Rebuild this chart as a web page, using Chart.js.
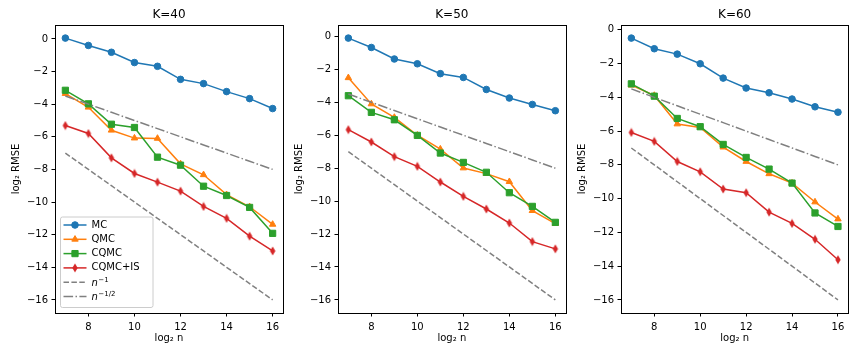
<!DOCTYPE html>
<html>
<head>
<meta charset="utf-8">
<script src="https://cdn.jsdelivr.net/npm/chart.js@4.4.0/dist/chart.umd.min.js"></script>
<style>
body { margin: 0; background: #fff; width: 859px; height: 358px; overflow: hidden; position: relative; }
canvas { position: absolute; top: 0; }
</style>
</head>
<body>
<canvas id="c40" width="290" height="358" style="left:0px"></canvas>
<canvas id="c50" width="290" height="358" style="left:283px"></canvas>
<canvas id="c60" width="293" height="358" style="left:566px"></canvas>
<script>
// data (log2 RMSE vs log2 n)
const logN = [7, 8, 9, 10, 11, 12, 13, 14, 15, 16]
const xTicks = [8, 10, 12, 14, 16]
const yTicks = [0, -2, -4, -6, -8, -10, -12, -14, -16]
const titles = ['K=40', 'K=50', 'K=60']
const seriesNames = ['MC', 'QMC', 'CQMC', 'CQMC+IS']

const mc40 = [0.05, -0.4, -0.82, -1.45, -1.68, -2.48, -2.74, -3.23, -3.66, -4.27]
const qmc40 = [-3.35, -4.19, -5.6, -6.08, -6.1, -7.66, -8.33, -9.55, -10.29, -11.37]
const cqmc40 = [-3.15, -3.98, -5.23, -5.43, -7.25, -7.74, -9.03, -9.6, -10.33, -11.92]
const cqmcis40 = [-5.31, -5.8, -7.29, -8.25, -8.78, -9.33, -10.27, -11.0, -12.09, -13.0]

const mc50 = [-0.1, -0.67, -1.37, -1.66, -2.26, -2.49, -3.22, -3.74, -4.13, -4.51]
const qmc50 = [-2.51, -4.1, -4.92, -6.0, -6.84, -7.99, -8.33, -8.82, -10.58, -11.37]
const cqmc50 = [-3.6, -4.61, -5.06, -6.01, -7.08, -7.65, -8.25, -9.49, -10.32, -11.29]
const cqmcis50 = [-5.66, -6.41, -7.3, -7.89, -8.84, -9.71, -10.48, -11.33, -12.46, -12.9]

const mc60 = [-0.49, -1.12, -1.44, -2.01, -2.86, -3.45, -3.73, -4.1, -4.56, -4.88]
const qmc60 = [-3.28, -3.89, -5.58, -5.78, -6.95, -7.8, -8.53, -9.08, -10.2, -11.21]
const cqmc60 = [-3.2, -3.93, -5.25, -5.74, -6.79, -7.56, -8.25, -9.08, -10.85, -11.65]
const cqmcis60 = [-6.08, -6.61, -7.8, -8.41, -9.43, -9.65, -10.8, -11.47, -12.41, -13.62]

// reference slopes
const refN1 = [-7, -8, -9, -10, -11, -12, -13, -14, -15, -16]
const refHalf = [-3.5, -4, -4.5, -5, -5.5, -6, -6.5, -7, -7.5, -8]

const colors = ['#1f77b4', '#ff7f0e', '#2ca02c', '#d62728']
const FONT = 'DejaVu Sans'

// thin diamond marker like matplotlib 'd'
function thinDiamond(color) {
    const c = document.createElement('canvas')
    c.width = 8
    c.height = 10
    const g = c.getContext('2d')
    g.fillStyle = color
    g.beginPath()
    g.moveTo(4, 0.4)
    g.lineTo(6.7, 5)
    g.lineTo(4, 9.6)
    g.lineTo(1.3, 5)
    g.closePath()
    g.fill()
    return c
}

const markers = [
    { style: 'circle', r: 3.3 },
    { style: 'triangle', r: 3.7 },
    { style: 'rect', r: 4.4 },
    { style: thinDiamond(colors[3]), r: 4 }
]

function drawMarker(ctx, i, x, y) {
    const m = markers[i]
    ctx.save()
    ctx.fillStyle = colors[i]
    ctx.strokeStyle = colors[i]
    ctx.lineWidth = 1
    Chart.helpers.drawPoint(ctx, { pointStyle: m.style, radius: m.r, rotation: 0, borderWidth: 1 }, x, y)
    ctx.restore()
}

// frame on all four sides + panel title
const framePlugin = {
    id: 'frame',
    afterDraw(chart) {
        const { ctx, chartArea: a } = chart
        ctx.save()
        ctx.strokeStyle = '#000'
        ctx.lineWidth = 1
        ctx.strokeRect(Math.round(a.left) + 0.5, Math.round(a.top) + 0.5, Math.round(a.right - a.left), Math.round(a.bottom - a.top))
        ctx.fillStyle = '#000'
        ctx.font = '12px ' + FONT
        ctx.textAlign = 'center'
        ctx.textBaseline = 'middle'
        ctx.fillText(chart.options.plugins.panelTitle, (a.left + a.right) / 2, 15)
        ctx.restore()
    }
}

// legend box in lower left of first panel
const legendPlugin = {
    id: 'boxLegend',
    afterDraw(chart) {
        if (!chart.options.plugins.showBoxLegend) return
        const ctx = chart.ctx
        const a = chart.chartArea
        const x0 = a.left + 5.5, y1 = a.bottom - 5.5
        const w = 92.5, h = 90.5
        const y0 = y1 - h
        ctx.save()
        ctx.fillStyle = 'rgba(255,255,255,0.8)'
        ctx.strokeStyle = '#cccccc'
        ctx.lineWidth = 1
        ctx.beginPath()
        ctx.roundRect(x0, y0, w, h, 2)
        ctx.fill()
        ctx.stroke()

        const hx0 = x0 + 3, hx1 = x0 + 26, tx = x0 + 31
        const rows = [...seriesNames, 'n1', 'n2']
        rows.forEach((name, i) => {
            const y = y0 + 8 + i * 14.3
            ctx.lineWidth = 1.5
            if (i < 4) {
                ctx.strokeStyle = colors[i]
                ctx.setLineDash([])
                ctx.beginPath(); ctx.moveTo(hx0, y); ctx.lineTo(hx1, y); ctx.stroke()
                drawMarker(ctx, i, (hx0 + hx1) / 2, y)
                ctx.fillStyle = '#000'
                ctx.font = '10px ' + FONT
                ctx.textAlign = 'left'
                ctx.textBaseline = 'middle'
                ctx.fillText(name, tx, y)
            } else {
                ctx.strokeStyle = '#808080'
                ctx.setLineDash(i === 4 ? [5.5, 2.4] : [9.6, 2.4, 1.5, 2.4])
                ctx.beginPath(); ctx.moveTo(hx0, y); ctx.lineTo(hx1, y); ctx.stroke()
                ctx.setLineDash([])
                ctx.fillStyle = '#000'
                ctx.textAlign = 'left'
                ctx.textBaseline = 'alphabetic'
                ctx.font = 'italic 10px ' + FONT
                ctx.fillText('n', tx, y + 3.5)
                const nw = ctx.measureText('n').width
                ctx.font = '7px ' + FONT
                ctx.fillText(i === 4 ? '\u22121' : '\u22121/2', tx + nw + 0.5, y - 0.5)
            }
        })
        ctx.restore()
    }
}

function makePanel(id, idx, mc, qmc, cqmc, cqmcis, rightPad) {
    const series = [mc, qmc, cqmc, cqmcis]
    const all = [...mc, ...qmc, ...cqmc, ...cqmcis, ...refN1, ...refHalf]
    const lo = Math.min(...all), hi = Math.max(...all)
    const pad = 0.05 * (hi - lo)

    const datasets = series.map((vals, i) => ({
        label: seriesNames[i],
        data: logN.map((x, k) => ({ x: x, y: vals[k] })),
        borderColor: colors[i],
        backgroundColor: colors[i],
        pointBackgroundColor: colors[i],
        pointBorderColor: colors[i],
        pointStyle: markers[i].style,
        pointRadius: markers[i].r,
        pointBorderWidth: 1,
        borderWidth: 1.5,
        tension: 0,
        order: 10 - i
    }))
    datasets.push({
        label: 'n^-1',
        data: logN.map((x, k) => ({ x: x, y: refN1[k] })),
        borderColor: '#808080',
        borderDash: [5.5, 2.4],
        borderWidth: 1.5,
        pointRadius: 0,
        order: 2
    })
    datasets.push({
        label: 'n^-1/2',
        data: logN.map((x, k) => ({ x: x, y: refHalf[k] })),
        borderColor: '#808080',
        borderDash: [9.6, 2.4, 1.5, 2.4],
        borderWidth: 1.5,
        pointRadius: 0,
        order: 1
    })

    const tickFont = { family: FONT, size: 10 }
    new Chart(document.getElementById(id), {
        type: 'line',
        data: { datasets: datasets },
        plugins: [framePlugin, legendPlugin],
        options: {
            responsive: false,
            animation: false,
            events: [],
            layout: { padding: { left: 0, right: rightPad, top: 25, bottom: 0 } },
            plugins: {
                legend: { display: false },
                tooltip: { enabled: false },
                panelTitle: titles[idx],
                showBoxLegend: idx === 0
            },
            scales: {
                x: {
                    type: 'linear',
                    min: 6.55,
                    max: 16.45,
                    afterBuildTicks: ax => { ax.ticks = xTicks.map(v => ({ value: v })) },
                    afterFit: ax => { ax.height = 45 },
                    ticks: { font: tickFont, color: '#000', padding: 4.5, maxRotation: 0 },
                    grid: { drawOnChartArea: false, drawTicks: true, tickLength: 3.5, color: '#000', tickColor: '#000', tickWidth: 1 },
                    border: { display: false },
                    title: { display: true, text: 'log\u2082 n', font: tickFont, color: '#000', padding: { top: 0, bottom: 14 } }
                },
                y: {
                    type: 'linear',
                    min: lo - pad,
                    max: hi + pad,
                    afterBuildTicks: ax => { ax.ticks = yTicks.map(v => ({ value: v })) },
                    afterFit: ax => { ax.width = 55 },
                    ticks: {
                        font: tickFont, color: '#000', padding: 3.5,
                        callback: v => String(v).replace('-', '\u2212')
                    },
                    grid: { drawOnChartArea: false, drawTicks: true, tickLength: 3.5, color: '#000', tickColor: '#000', tickWidth: 1 },
                    border: { display: false },
                    title: { display: true, text: 'log\u2082 RMSE', font: tickFont, color: '#000', padding: { top: 10, bottom: 0 } }
                }
            }
        }
    })
}

makePanel('c40', 0, mc40, qmc40, cqmc40, cqmcis40, 7)
makePanel('c50', 1, mc50, qmc50, cqmc50, cqmcis50, 7.3)
makePanel('c60', 2, mc60, qmc60, cqmc60, cqmcis60, 10.7)
</script>
</body>
</html>
